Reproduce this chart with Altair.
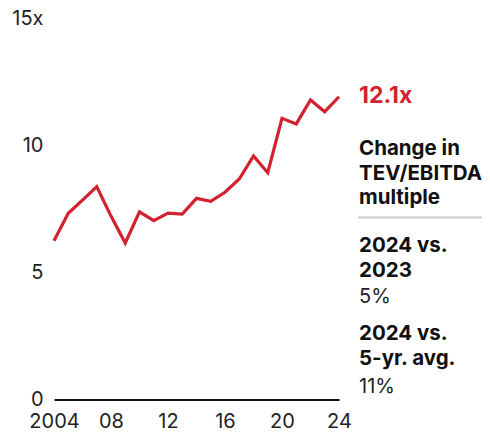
import altair as alt
import pandas as pd

years = list(range(2004, 2025))
multiple = [6.25, 7.33, 7.85, 8.38, 7.22, 6.16, 7.39, 7.04, 7.34, 7.30, 7.92,
            7.80, 8.16, 8.68, 9.59, 8.93, 11.07, 10.85, 11.79, 11.33, 11.92]

x_ticks = [2004, 2008, 2012, 2016, 2020, 2024]
y_ticks = [0, 5, 10, 15]

side_texts = ["12.1x", "Change in", "TEV/EBITDA", "multiple", "2024 vs.", "2023", "5%",
              "2024 vs.", "5-yr. avg.", "11%"]
side_y = [84.5, 136.5, 161.5, 185.5, 233.5, 258.5, 284.5, 321.5, 346.5, 374.5]
side_style = ["red", "bold", "bold", "bold", "bold", "bold", "reg", "bold", "bold", "reg"]

RED = "#D22230"
FONT = "Inter"

df = pd.DataFrame({"year": years, "value": multiple})

line = alt.Chart(df).mark_line(color=RED, strokeWidth=3.2, strokeJoin="miter").encode(
    x=alt.X("year:Q", scale=alt.Scale(domain=[2004, 2024], nice=False, zero=False),
            axis=alt.Axis(values=x_ticks, title=None, grid=False, ticks=False,
                          domainColor="#111", domainWidth=2, labelPadding=12,
                          labelExpr="datum.value == 2004 ? '2004' : substring(toString(datum.value), 2, 4)",
                          labelFont=FONT, labelFontSize=20, labelColor="#222", labelFlush=False)),
    y=alt.Y("value:Q", scale=alt.Scale(domain=[0, 15], nice=False),
            axis=alt.Axis(values=y_ticks, title=None, grid=False, ticks=False, domain=False,
                          labelPadding=11, labelExpr="datum.value == 15 ? '15x' : datum.label",
                          labelFont=FONT, labelFontSize=20, labelColor="#222", labelBaseline="middle")),
)

tdf = pd.DataFrame({"t": side_texts, "py": side_y, "s": side_style})

def text_layer(style, color, size, weight):
    return alt.Chart(tdf).transform_filter(alt.datum.s == style).mark_text(
        align="left", baseline="alphabetic", font=FONT, fontSize=size, fontWeight=weight, color=color
    ).encode(x=alt.value(305), y=alt.Y("py:Q", scale=None), text="t:N")

red_t = text_layer("red", RED, 23, "bold")
bold_t = text_layer("bold", "#111", 20.5, "bold")
reg_t = text_layer("reg", "#222", 20, "normal")

sep = alt.Chart(pd.DataFrame({"a": [0]})).mark_rule(color="#cccccc", strokeWidth=2).encode(
    x=alt.value(304), x2=alt.value(434), y=alt.value(199))

chart = alt.layer(line, sep, red_t, bold_t, reg_t).properties(
    width=285, height=381,
    autosize=alt.AutoSizeParams(type="none"),
    padding={"left": 46, "top": 10.5, "right": 143, "bottom": 35},
).configure_view(stroke=None)

chart.save("out.html", embed_options={"renderer": "svg", "actions": False})
